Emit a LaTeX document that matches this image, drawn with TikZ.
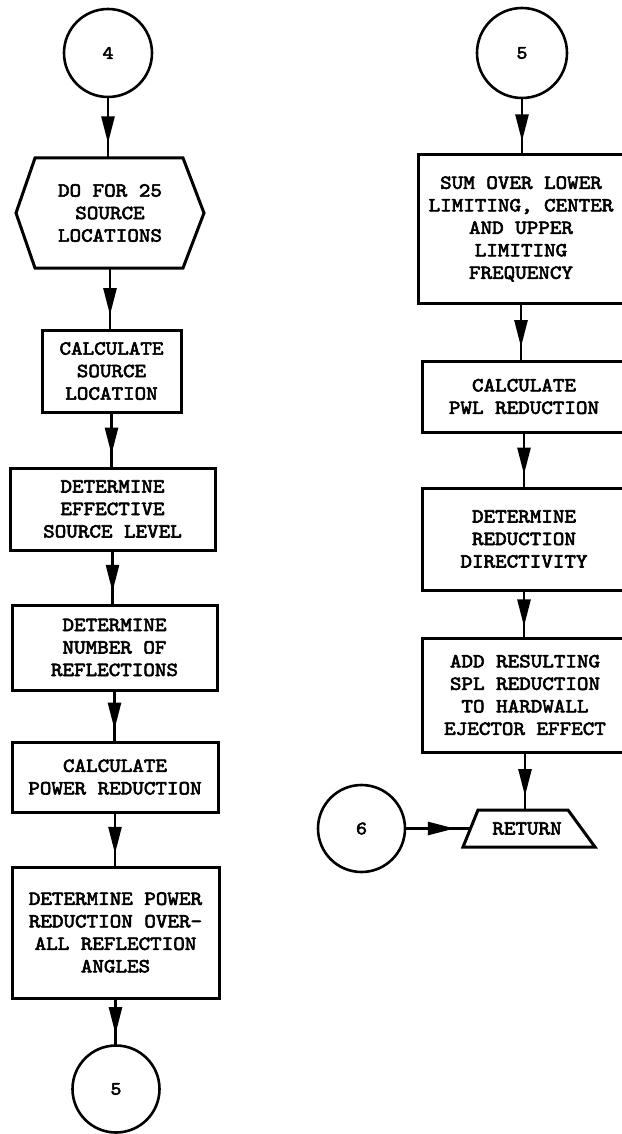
\documentclass[tikz,border=0pt]{standalone}
\usepackage{fontspec}
\newfontfamily\typerfont{lmmono10-regular.otf}[FakeBold=3, FakeStretch=1.1]
\usetikzlibrary{arrows.meta,decorations.markings,calc}

\begin{document}
\begin{tikzpicture}[x=1pt,y=-1pt,
  every node/.style={inner sep=0pt, outer sep=0pt},
  txt/.style={font=\fontsize{20}{22.5}\selectfont\typerfont, align=center},
  stepbox/.style={txt, draw, rectangle, line width=3pt},
  outline/.style={draw, line width=3pt},
  conn/.style={circle, draw, line width=2.6pt, minimum size=#1,
    font=\fontsize{19}{19}\selectfont\typerfont},
  flow/.style={draw, line width=2.6pt, postaction={decorate},
    decoration={markings, mark=at position 0.76 with
      {\arrow{Triangle[length=27pt,width=13pt]}}}}]

\useasboundingbox (0,0) rectangle (621,1134);

% ---- left column ----
\node[conn=88pt] (c4) at (108,53) {4};

\node[txt, minimum width=188pt, minimum height=110pt] (hex) at (110,213)
  {DO FOR 25\\SOURCE\\LOCATIONS};
\draw[outline] ([xshift=19pt]hex.north west) -- ([xshift=-21pt]hex.north east)
  -- (hex.east) -- ([xshift=-21pt]hex.south east)
  -- ([xshift=19pt]hex.south west) -- (hex.west) -- cycle;

\node[stepbox, minimum width=139pt, minimum height=82pt] (b1) at (111.5,371)
  {CALCULATE\\SOURCE\\LOCATION};
\node[stepbox, minimum width=205pt, minimum height=82pt] (b2) at (112.5,509)
  {DETERMINE\\EFFECTIVE\\SOURCE LEVEL};
\node[stepbox, minimum width=205pt, minimum height=85pt] (b3) at (114.5,647.5)
  {DETERMINE\\NUMBER OF\\REFLECTIONS};
\node[stepbox, minimum width=206pt, minimum height=70pt] (b4) at (115,777)
  {CALCULATE\\POWER REDUCTION};
\node[stepbox, minimum width=207pt, minimum height=131pt] (b5) at (115.5,932.5)
  {DETERMINE POWER\\REDUCTION OVER-\\ALL REFLECTION\\ANGLES};
\node[conn=87pt] (c5a) at (116,1089) {5};

\draw[flow] (c4.south) -- (c4.south |- hex.north);
\draw[flow] (hex.south) -- (hex.south |- b1.north);
\draw[flow] (b1.south) -- (b1.south |- b2.north);
\draw[flow] (b2.south) -- (b2.south |- b3.north);
\draw[flow] (b3.south) -- (b3.south |- b4.north);
\draw[flow] (b4.south) -- (b4.south |- b5.north);
\draw[flow] (b5.south) -- (b5.south |- c5a.north);

% ---- right column ----
\node[conn=90pt] (c5b) at (522,53) {5};
\node[stepbox, minimum width=206pt, minimum height=148pt] (r1) at (521,229)
  {SUM OVER LOWER\\LIMITING, CENTER\\AND UPPER\\LIMITING\\FREQUENCY};
\node[stepbox, minimum width=204pt, minimum height=71pt] (r2) at (524,396.5)
  {CALCULATE\\PWL REDUCTION};
\node[stepbox, minimum width=204pt, minimum height=102pt] (r3) at (524,539)
  {DETERMINE\\REDUCTION\\DIRECTIVITY};
\node[stepbox, minimum width=206pt, minimum height=114pt] (r4) at (525,695)
  {ADD RESULTING\\SPL REDUCTION\\TO HARDWALL\\EJECTOR EFFECT};

% return terminal: trapezoid, wider at the bottom
\node[txt, minimum width=132pt, minimum height=37pt] (ret) at (529,828.5)
  {\hspace*{-4pt}RETURN};
\draw[outline] ([xshift=15pt]ret.north west) -- ([xshift=-27pt]ret.north east)
  -- (ret.south east) -- (ret.south west) -- cycle;
\coordinate (retin) at ($(ret.south west)!0.5!([xshift=15pt]ret.north west)$);
\node[conn=87pt] (c6) at (361.5,828.5) {6};

\draw[flow] (c5b.south) -- (c5b.south |- r1.north);
\draw[flow] (r1.south) -- (r1.south |- r2.north);
\draw[flow] (r2.south) -- (r2.south |- r3.north);
\draw[flow] (r3.south) -- (r3.south |- r4.north);
\draw[flow] (r4.south) -- (r4.south |- ret.north);
\draw[flow] (c6) -- (retin);
\end{tikzpicture}
\end{document}
